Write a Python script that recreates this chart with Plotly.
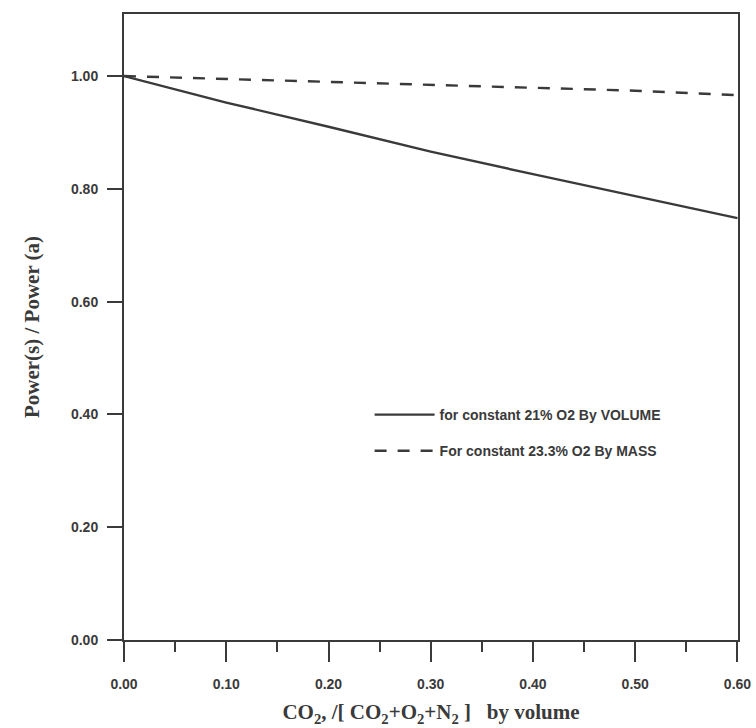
import plotly.graph_objects as go

# CO2 volume fraction in the CO2/O2/N2 mixture
co2_fraction = [0.0, 0.1, 0.2, 0.3, 0.4, 0.5, 0.6]

# Power ratio for a constant oxygen share by volume / by mass
power_ratio_volume = [1.000, 0.953, 0.910, 0.866, 0.826, 0.787, 0.748]
power_ratio_mass = [1.000, 0.995, 0.990, 0.985, 0.979, 0.974, 0.966]

series_names = [
    "for constant 21% O2 By VOLUME",
    "For constant 23.3% O2 By MASS",
]

x_ticks = [0.0, 0.1, 0.2, 0.3, 0.4, 0.5, 0.6]
x_tick_labels = ["0.00", "0.10", "0.20", "0.30", "0.40", "0.50", "0.60"]
y_ticks = [0.0, 0.2, 0.4, 0.6, 0.8, 1.0]
y_tick_labels = ["0.00", "0.20", "0.40", "0.60", "0.80", "1.00"]

ink = "#3a3a3a"
tick_font = dict(family="Liberation Sans, Arial, sans-serif", size=14, color=ink, weight="bold")
title_font = dict(family="Liberation Serif, Times New Roman, serif", size=21, color=ink, weight="bold")

fig = go.Figure()
fig.add_trace(go.Scatter(
    x=co2_fraction, y=power_ratio_volume, mode="lines", name=series_names[0],
    line=dict(color=ink, width=2.4), legendgroup="vol",
))
fig.add_trace(go.Scatter(
    x=co2_fraction, y=power_ratio_mass, mode="lines", name=series_names[1],
    line=dict(color=ink, width=2.4, dash="12px,11px"), legendgroup="mass",
))

fig.update_layout(
    width=756, height=728,
    margin=dict(l=124, r=18, t=14, b=88),
    paper_bgcolor="white", plot_bgcolor="white",
    showlegend=True,
    legend=dict(
        x=0.40, y=0.385, xanchor="left", yanchor="top",
        bgcolor="rgba(0,0,0,0)", borderwidth=0,
        font=dict(family="Liberation Sans, Arial, sans-serif", size=14, color=ink, weight="bold"),
        traceorder="grouped", tracegroupgap=15, itemwidth=60,
    ),
)

fig.update_xaxes(
    range=[0, 0.6005], tickvals=x_ticks, ticktext=x_tick_labels,
    ticks="outside", ticklen=20, tickwidth=2, tickcolor=ink,
    minor=dict(dtick=0.05, ticks="outside", ticklen=10, tickwidth=2, tickcolor=ink),
    showline=True, linewidth=2, linecolor=ink, mirror=True,
    showgrid=False, zeroline=False, automargin=False,
    tickfont=tick_font, ticklabelstandoff=10, ticklabeloverflow="allow",
    title=dict(
        text="CO<sub>2</sub>, /[ CO<sub>2</sub>+O<sub>2</sub>+N<sub>2</sub> ]   by volume",
        font=title_font, standoff=14,
    ),
)
fig.update_yaxes(
    range=[0, 1.11], tickvals=y_ticks, ticktext=y_tick_labels,
    ticks="outside", ticklen=15, tickwidth=2, tickcolor=ink,
    showline=True, linewidth=2, linecolor=ink, mirror=True,
    showgrid=False, zeroline=False,
    tickfont=tick_font, ticklabelstandoff=6,
    title=dict(text="Power(s) / Power (a)", font=title_font, standoff=26),
)

fig.write_html("out.html")
